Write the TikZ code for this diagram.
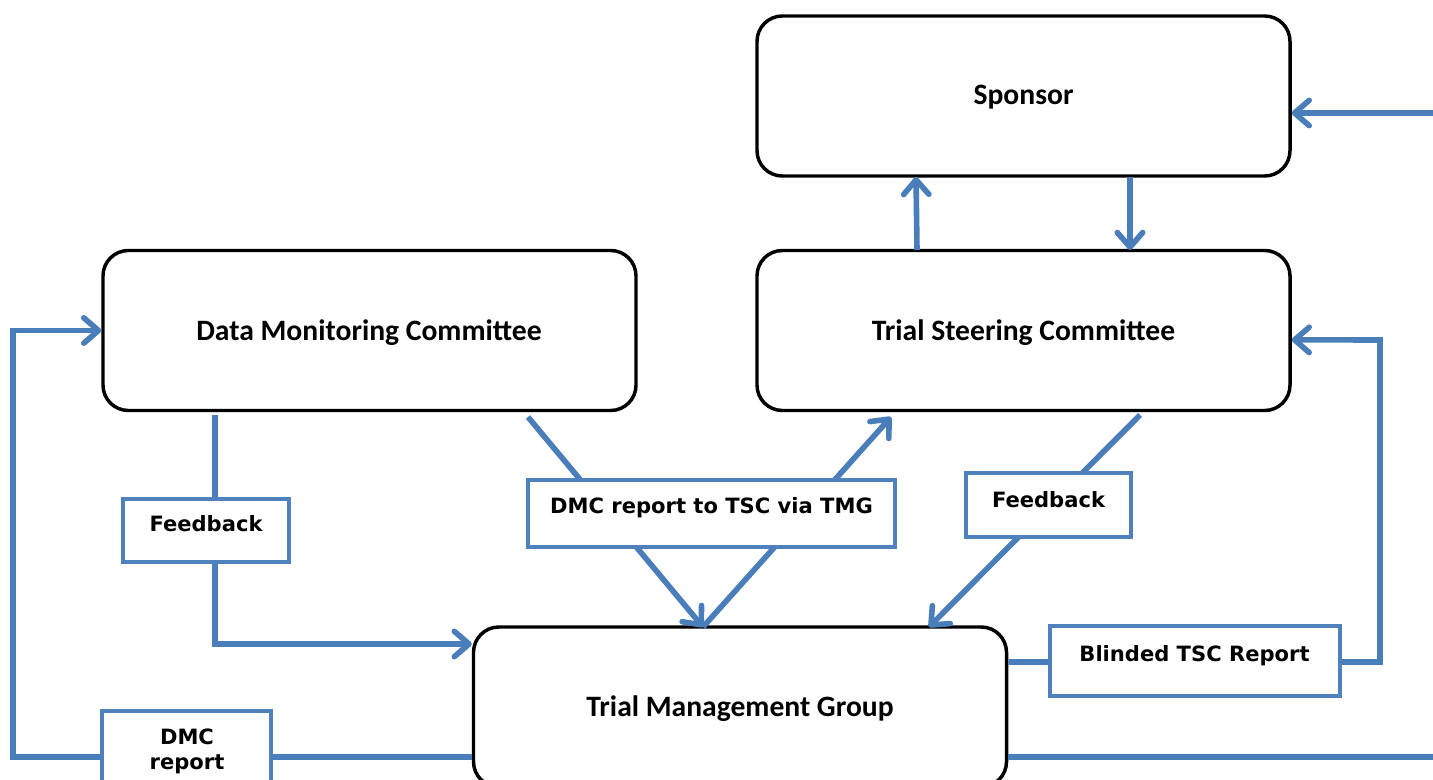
\documentclass[tikz,border=0pt]{standalone}
\usepackage{fontspec}
\newfontfamily\boxfont{Carlito}
\newfontfamily\lblfont{DejaVu Sans}
\usetikzlibrary{arrows.meta}
\definecolor{linkblue}{HTML}{4A7EBB}
\definecolor{lblborder}{HTML}{4F81BD}
\tikzset{
  bigbox/.style={draw=black, line width=2.6pt, rounded corners=19pt,
    minimum width=399.75pt, minimum height=120pt, fill=white, inner sep=0pt},
  bigtext/.style={font=\boxfont\bfseries\fontsize{22.2}{26}\selectfont, anchor=base, inner sep=0pt},
  lblbox/.style={draw=lblborder, line width=2.3pt, fill=white, inner sep=0pt},
  lbltext/.style={font=\lblfont\bfseries\fontsize{15.8}{19}\selectfont, anchor=base, inner sep=0pt},
  link/.style={draw=linkblue, line width=4.2pt},
  tip/.style={-{Straight Barb[round,length=11pt,width=19pt]}}
}
\begin{document}
\begin{tikzpicture}[x=0.75pt,y=-0.75pt]
\useasboundingbox (0,0) rectangle (1433,780);
\clip (0,0) rectangle (1433,780);
\fill[white] (0,0) rectangle (1433,780);

% main boxes
\node[bigbox] (sponsor) at (1023.5,96) {};
\node[bigtext] at (1023.5,105) {Sponsor};
\node[bigbox] (dmc) at (369.5,330.5) {};
\node[bigtext] at (369,340) {Data Monitoring Committee};
\node[bigbox] (tsc) at (1023.5,330.5) {};
\node[bigtext] at (1023.5,340) {Trial Steering Committee};
\node[bigbox] (tmg) at (740,707) {};
\node[bigtext] at (740,716) {Trial Management Group};

% free ends
\coordinate (dmcA) at (215,415);
\coordinate (dmcB) at (528,417);
\coordinate (tscA) at (891,417);
\coordinate (tscB) at (1140,415);
\coordinate (tmgTop) at (703,627);
\coordinate (tmgTopR) at (929,627);
\coordinate (edgeTop) at (1433,113);
\coordinate (edgeBot) at (1433,757);

% connectors
\draw[link] ([yshift=-37.5pt]tmg.west) -- (13,757) -- (13,330.5) [tip] -- (dmc.west);
\draw[link,tip] (dmcA) -- (215,644) -- ([yshift=47.25pt]tmg.west);
\draw[link,tip] (dmcB) -- (tmgTop);
\draw[link,tip] (tmgTop) -- (tscA);
\draw[link,tip] (tscB) -- (tmgTopR);
\draw[link,tip] ([yshift=33.75pt]tmg.east) -- (1380,662) -- (1380,340) -- ([yshift=-7pt]tsc.east);
\draw[link] ([yshift=-37.5pt]tmg.east) -- (edgeBot);
\draw[link,tip] (edgeTop) -- ([yshift=-12.75pt]sponsor.east);
\draw[link,tip] (917,250) -- (916,177);
\draw[link,tip] (1130,177) -- (1130,250);

% label boxes
\node[lblbox, minimum width=124.5pt, minimum height=47.25pt] (fbl) at (206,530.5) {};
\node[lbltext] at (206,531) {Feedback};
\node[lblbox, minimum width=275.25pt, minimum height=50.25pt] (dtt) at (711.5,513.5) {};
\node[lbltext] at (711.5,513) {DMC report to TSC via TMG};
\node[lblbox, minimum width=123.75pt, minimum height=48pt] (fbr) at (1048.5,505) {};
\node[lbltext] at (1048.5,507) {Feedback};
\node[lblbox, line width=3.6pt, minimum width=217.5pt, minimum height=52.5pt] (blind) at (1195,661) {};
\node[lbltext] at (1194.5,661) {Blinded TSC Report};
\node[lblbox, minimum width=126.75pt, minimum height=67.5pt] (dmcr) at (186.5,756) {};
\node[lbltext] at (187,744) {DMC};
\node[lbltext] at (187,769) {report};
\end{tikzpicture}
\end{document}
